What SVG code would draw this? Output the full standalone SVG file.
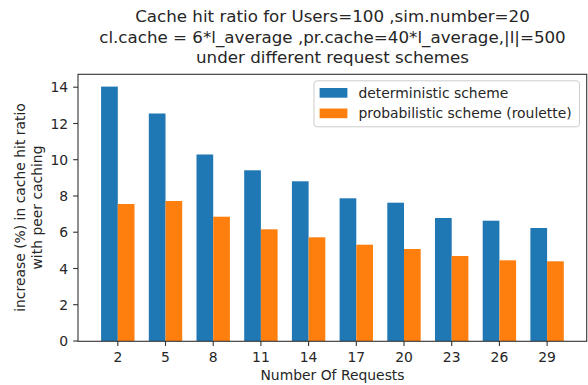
<svg xmlns="http://www.w3.org/2000/svg" width="588" height="385" viewBox="0 0 588 385">
  <style>
    text { font-family: "DejaVu Sans", "Liberation Sans", sans-serif; fill: #262626; }
    .title { font-size: 16.7px; text-anchor: middle; }
    .tick { font-size: 13.9px; }
    .xt { text-anchor: middle; }
    .yt { text-anchor: end; }
    .lbl { font-size: 13.9px; text-anchor: middle; }
    .leg { font-size: 13.9px; }
    .det { fill: #1f77b4; }
    .prob { fill: #ff7f0e; }
    .spine { stroke: #333333; stroke-width: 1.1; fill: none; }
    .tk { stroke: #333333; stroke-width: 1.1; }
  </style>

  <rect width="588" height="385" fill="#ffffff"/>

  <!-- title -->
  <g id="title">
    <text class="title" x="332.5" y="22">Cache hit ratio for Users=100 ,sim.number=20</text>
    <text class="title" x="332.5" y="42.5">cl.cache = 6*l_average ,pr.cache=40*l_average,|l|=500</text>
    <text class="title" x="332.5" y="63">under different request schemes</text>
  </g>

  <!-- bars: deterministic scheme -->
  <g id="bars-deterministic" class="det">
    <rect x="101.1" y="86.6" width="16.7" height="254.4"/>
    <rect x="148.8" y="113.5" width="16.7" height="227.5"/>
    <rect x="196.5" y="154.5" width="16.7" height="186.5"/>
    <rect x="244.2" y="170.3" width="16.7" height="170.7"/>
    <rect x="291.9" y="181.3" width="16.7" height="159.7"/>
    <rect x="339.6" y="198.3" width="16.7" height="142.7"/>
    <rect x="387.3" y="202.7" width="16.7" height="138.3"/>
    <rect x="435.0" y="218.0" width="16.7" height="123.0"/>
    <rect x="482.7" y="220.7" width="16.7" height="120.3"/>
    <rect x="530.4" y="228.0" width="16.7" height="113.0"/>
  </g>

  <!-- bars: probabilistic scheme -->
  <g id="bars-probabilistic" class="prob">
    <rect x="117.8" y="204.0" width="16.7" height="137.0"/>
    <rect x="165.5" y="201.0" width="16.7" height="140.0"/>
    <rect x="213.2" y="216.7" width="16.7" height="124.3"/>
    <rect x="260.9" y="229.3" width="16.7" height="111.7"/>
    <rect x="308.6" y="237.3" width="16.7" height="103.7"/>
    <rect x="356.3" y="244.7" width="16.7" height="96.3"/>
    <rect x="404.0" y="249.0" width="16.7" height="92.0"/>
    <rect x="451.7" y="256.0" width="16.7" height="85.0"/>
    <rect x="499.4" y="260.3" width="16.7" height="80.7"/>
    <rect x="547.1" y="261.3" width="16.7" height="79.7"/>
  </g>

  <!-- axes frame -->
  <g id="axes">
    <rect class="spine" x="78" y="74.3" width="508.7" height="267"/>
  </g>

  <!-- y axis ticks and labels -->
  <g id="y-axis">
    <g class="tk">
      <line x1="73.1" y1="341" x2="78" y2="341"/>
      <line x1="73.1" y1="304.7" x2="78" y2="304.7"/>
      <line x1="73.1" y1="268.5" x2="78" y2="268.5"/>
      <line x1="73.1" y1="232.2" x2="78" y2="232.2"/>
      <line x1="73.1" y1="196" x2="78" y2="196"/>
      <line x1="73.1" y1="159.7" x2="78" y2="159.7"/>
      <line x1="73.1" y1="123.5" x2="78" y2="123.5"/>
      <line x1="73.1" y1="87.2" x2="78" y2="87.2"/>
    </g>
    <text class="tick yt" x="68.2" y="346">0</text>
    <text class="tick yt" x="68.2" y="309.7">2</text>
    <text class="tick yt" x="68.2" y="273.5">4</text>
    <text class="tick yt" x="68.2" y="237.2">6</text>
    <text class="tick yt" x="68.2" y="201">8</text>
    <text class="tick yt" x="68.2" y="164.7">10</text>
    <text class="tick yt" x="68.2" y="128.5">12</text>
    <text class="tick yt" x="68.2" y="92.2">14</text>
    <text class="lbl" transform="translate(25,207.5) rotate(-90)">increase (%) in cache hit ratio</text>
    <text class="lbl" transform="translate(41.5,207.5) rotate(-90)">with peer caching</text>
  </g>

  <!-- x axis ticks and labels -->
  <g id="x-axis">
    <g class="tk">
      <line x1="117.8" y1="341" x2="117.8" y2="345.9"/>
      <line x1="165.5" y1="341" x2="165.5" y2="345.9"/>
      <line x1="213.2" y1="341" x2="213.2" y2="345.9"/>
      <line x1="260.9" y1="341" x2="260.9" y2="345.9"/>
      <line x1="308.6" y1="341" x2="308.6" y2="345.9"/>
      <line x1="356.3" y1="341" x2="356.3" y2="345.9"/>
      <line x1="404.0" y1="341" x2="404.0" y2="345.9"/>
      <line x1="451.7" y1="341" x2="451.7" y2="345.9"/>
      <line x1="499.4" y1="341" x2="499.4" y2="345.9"/>
      <line x1="547.1" y1="341" x2="547.1" y2="345.9"/>
    </g>
    <text class="tick xt" x="117.8" y="362">2</text>
    <text class="tick xt" x="165.5" y="362">5</text>
    <text class="tick xt" x="213.2" y="362">8</text>
    <text class="tick xt" x="260.9" y="362">11</text>
    <text class="tick xt" x="308.6" y="362">14</text>
    <text class="tick xt" x="356.3" y="362">17</text>
    <text class="tick xt" x="404.0" y="362">20</text>
    <text class="tick xt" x="451.7" y="362">23</text>
    <text class="tick xt" x="499.4" y="362">26</text>
    <text class="tick xt" x="547.1" y="362">29</text>
    <text class="lbl" x="332.5" y="380">Number Of Requests</text>
  </g>

  <!-- legend -->
  <g id="legend">
    <rect x="314" y="80.8" width="265.5" height="46" rx="3" ry="3" fill="#ffffff" fill-opacity="0.8" stroke="#cccccc" stroke-width="1"/>
    <rect class="det" x="319.6" y="88" width="27.8" height="9.7"/>
    <text class="leg" x="358.5" y="97.8">deterministic scheme</text>
    <rect class="prob" x="319.6" y="108.5" width="27.8" height="9.7"/>
    <text class="leg" x="358.5" y="118.3">probabilistic scheme (roulette)</text>
  </g>
</svg>
